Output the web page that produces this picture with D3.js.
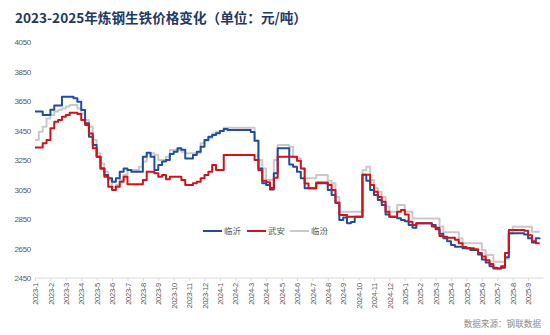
<!DOCTYPE html>
<html><head><meta charset="utf-8">
<script src="https://cdn.jsdelivr.net/npm/d3@7"></script>
<style>body{margin:0;background:#fff}</style>
</head><body><svg id="c" width="550" height="335"></svg>
<script>
const title = "2023-2025年炼钢生铁价格变化（单位：元/吨）";
const source = "数据来源：钢联数据";
const monthLabels = ["2023-1","2023-2","2023-3","2023-4","2023-5","2023-6","2023-7","2023-8","2023-9","2023-10","2023-11","2023-12",
  "2024-1","2024-2","2024-3","2024-4","2024-5","2024-6","2024-7","2024-8","2024-9","2024-10","2024-11","2024-12",
  "2025-1","2025-2","2025-3","2025-4","2025-5","2025-6","2025-7","2025-8","2025-9"];
const stepsPerMonth = 4; // values are sampled four times per month
const yTicks = [2450,2650,2850,3050,3250,3450,3650,3850,4050];
const seriesNames = ["临沂","武安","临汾"];
const linyi = [3578,3578,3555,3555,3590,3620,3620,3679,3679,3679,3668,3645,3589,3499,3408,3352,3272,3193,3148,3126,
  3103,3126,3171,3193,3182,3171,3171,3171,3272,3300,3272,3182,3216,3239,3250,3290,3306,3329,3320,3261,
  3261,3284,3306,3340,3385,3408,3420,3431,3446,3460,3453,3453,3453,3453,3453,3453,3440,3380,3193,3092,
  3080,3050,3160,3329,3329,3329,3220,3205,3170,3126,3058,3058,3058,3092,3092,3092,3047,3013,2960,2843,
  2860,2821,2830,2866,2866,3150,3110,3047,3013,2979,2945,2880,2866,2866,2855,2843,2835,2809,2790,2821,
  2821,2821,2821,2810,2790,2750,2720,2700,2674,2662,2662,2651,2651,2640,2640,2610,2575,2555,2530,2515,
  2515,2520,2590,2753,2753,2753,2753,2745,2720,2690,2720,2723];
const wuan = [3335,3335,3363,3385,3465,3510,3521,3544,3555,3571,3571,3562,3521,3487,3430,3329,3272,3193,3137,3069,
  3047,3069,3103,3137,3085,3085,3085,3085,3114,3171,3171,3160,3137,3148,3120,3137,3137,3137,3114,3080,
  3080,3092,3103,3126,3148,3171,3216,3182,3182,3284,3284,3284,3284,3284,3284,3284,3284,3250,3180,3110,
  3100,3060,3130,3272,3272,3272,3272,3272,3245,3193,3090,3058,3058,3098,3098,3098,3080,3047,2960,2877,
  2877,2866,2866,2866,2866,3150,3150,3080,3035,3000,2967,2900,2866,2866,2900,2911,2880,2832,2809,2821,
  2821,2821,2821,2800,2780,2735,2730,2723,2723,2710,2685,2660,2651,2651,2645,2620,2595,2570,2545,2520,
  2515,2530,2620,2775,2775,2775,2775,2770,2740,2700,2685,2685];
const linfen = [3385,3442,3476,3532,3555,3578,3589,3600,3612,3623,3623,3600,3566,3521,3476,3385,3295,3227,3171,3114,
  3069,3080,3114,3148,3182,3182,3182,3205,3239,3295,3295,3284,3250,3250,3272,3318,3318,3318,3306,3295,
  3295,3295,3295,3363,3380,3400,3430,3442,3446,3469,3469,3469,3469,3469,3469,3469,3469,3380,3250,3193,
  3114,3114,3250,3352,3352,3352,3340,3270,3261,3193,3126,3126,3126,3148,3148,3148,3110,3092,3000,2900,
  2900,2900,2900,2900,2900,3180,3205,3114,3060,3035,3000,2934,2900,2900,2945,2945,2900,2900,2854,2854,
  2854,2854,2854,2854,2854,2800,2760,2760,2760,2760,2720,2685,2685,2685,2685,2685,2640,2606,2606,2561,
  2561,2561,2580,2750,2798,2798,2798,2798,2798,2764,2764,2764];

const colors = ["#1F4E9E","#D0121B","#C9C9C9"];
const series = [linyi, wuan, linfen];

const svg = d3.select("#c");
const x = d3.scaleLinear().domain([0, monthLabels.length]).range([35, 543.5]);
const y = d3.scaleLinear().domain([2450, 4050]).range([278, 42]);

svg.append("text").attr("x", 15).attr("y", 23)
  .attr("font-family", "'Noto Sans CJK SC', sans-serif").attr("font-weight", "bold")
  .attr("font-size", 13.6).attr("fill", "#1F3864").text(title);

// y axis labels
const ya = svg.append("g").attr("transform", "translate(31,0)")
  .call(d3.axisLeft(y).tickValues(yTicks).tickSize(0).tickPadding(0).tickFormat(d3.format("d")));
ya.select(".domain").remove();
ya.selectAll("text").attr("font-family", "'Liberation Sans', Arial, sans-serif")
  .attr("font-size", 8).attr("fill", "#595959").attr("letter-spacing", -0.3);

// x axis
const xa = svg.append("g").attr("transform", "translate(0,278)")
  .call(d3.axisBottom(x).tickValues(d3.range(monthLabels.length)).tickSize(3)
    .tickFormat(i => monthLabels[i]));
xa.select(".domain").attr("stroke", "#D9D9D9").attr("d", `M${x(0)},0H${x(monthLabels.length)}`);
xa.selectAll(".tick line").attr("stroke", "#D9D9D9");
xa.selectAll("text").attr("font-family", "'Liberation Sans', Arial, sans-serif")
  .attr("font-size", 7.6).attr("fill", "#595959")
  .attr("text-anchor", "end").attr("transform", "rotate(-90)")
  .attr("x", -5).attr("y", 0).attr("dy", "0.35em").attr("letter-spacing", -0.3);

// lines
const line = d3.line().x((d, i) => x(i / stepsPerMonth)).y(d => y(d)).curve(d3.curveStepAfter);
const order = [2, 0, 1];
order.forEach(k => {
  svg.append("path").datum(series[k]).attr("fill", "none")
    .attr("stroke", colors[k]).attr("stroke-width", 2).attr("stroke-linejoin", "round")
    .attr("d", line);
});

// legend
const legendX = [203, 247, 290];
seriesNames.forEach((n, k) => {
  const g = svg.append("g").attr("transform", `translate(${legendX[k]},231)`);
  g.append("line").attr("x1", 0).attr("x2", 19).attr("stroke", colors[k]).attr("stroke-width", 2);
  g.append("text").attr("x", 21).attr("dy", "0.35em")
    .attr("font-family", "'Noto Sans CJK SC', sans-serif").attr("font-size", 8.5)
    .attr("fill", "#595959").text(n);
});

svg.append("text").attr("x", 541).attr("y", 327).attr("text-anchor", "end")
  .attr("font-family", "'Noto Sans CJK SC', sans-serif").attr("font-size", 8.6)
  .attr("fill", "#8C8C8C").text(source);
</script></body></html>
